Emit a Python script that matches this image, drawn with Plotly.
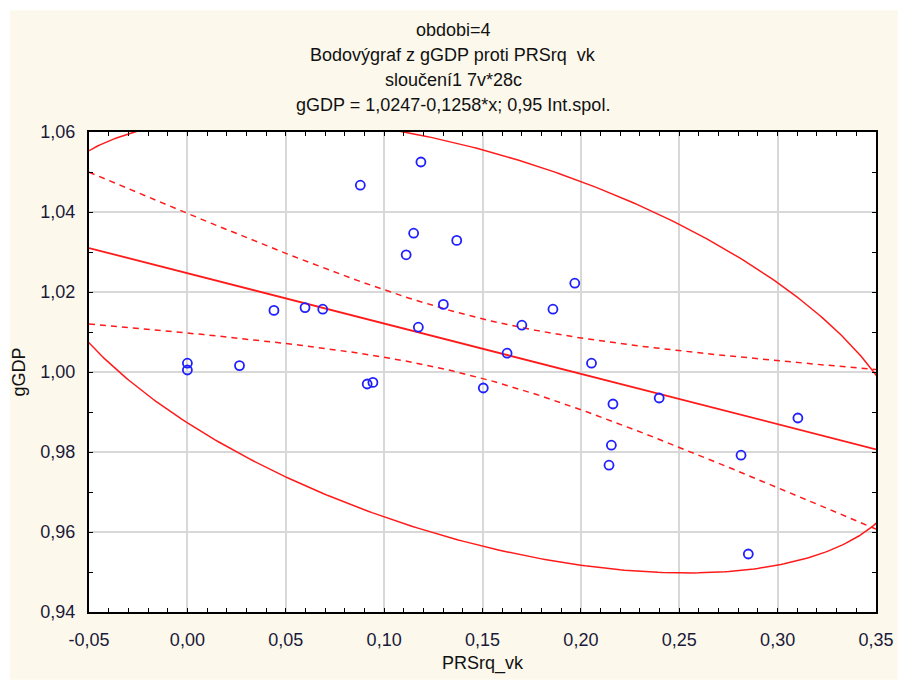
import numpy as np
import plotly.graph_objects as go

# Data
prsrq_vk = [0.0, 0.0, 0.0265, 0.044, 0.0598, 0.0688, 0.0879, 0.1187, 0.115, 0.1112,
            0.1369, 0.1301, 0.1174, 0.0914, 0.0943, 0.1504, 0.1969, 0.1858, 0.170,
            0.1625, 0.2054, 0.2163, 0.2398, 0.3103, 0.2155, 0.2143, 0.2814, 0.2851]
ggdp = [1.0022, 1.0005, 1.0016, 1.0154, 1.0161, 1.0157, 1.0467, 1.0525, 1.0347, 1.0293,
        1.0329, 1.0169, 1.0112, 0.9970, 0.9974, 0.9960, 1.0222, 1.0157, 1.0117,
        1.0047, 1.0022, 0.9920, 0.9935, 0.9885, 0.9817, 0.9767, 0.9792, 0.9545]

intercept = 1.0247
slope = -0.1258
x_range = [-0.05, 0.35]
y_range = [0.94, 1.06]
x_ticks = [-0.05, 0.0, 0.05, 0.10, 0.15, 0.20, 0.25, 0.30, 0.35]
x_tick_labels = ["-0,05", "0,00", "0,05", "0,10", "0,15", "0,20", "0,25", "0,30", "0,35"]
y_ticks = [0.94, 0.96, 0.98, 1.00, 1.02, 1.04, 1.06]
y_tick_labels = ["0,94", "0,96", "0,98", "1,00", "1,02", "1,04", "1,06"]

title_lines = ["obdobi=4", "Bodovýgraf z gGDP proti PRSrq  vk", "sloučení1 7v*28c",
               "gGDP = 1,0247-0,1258*x; 0,95 Int.spol."]

x = np.array(prsrq_vk)
y = np.array(ggdp)
n = len(x)

# regression line and 95% confidence band for the mean
xs = np.linspace(x_range[0], x_range[1], 200)
yhat = intercept + slope * xs
resid = y - (intercept + slope * x)
s = np.sqrt(np.sum(resid ** 2) / (n - 2))
sxx = np.sum((x - x.mean()) ** 2)
t_crit = 2.0555          # t(0.975, 26)
half = t_crit * s * np.sqrt(1.0 / n + (xs - x.mean()) ** 2 / sxx)

# 95% ellipse (F based)
f_crit = 3.369           # F(0.95; 2, 26)
cov = np.cov(x, y)
vals, vecs = np.linalg.eigh(cov)
k = np.sqrt(2.0 * (n - 1) / (n - 2) * f_crit)
th = np.linspace(0, 2 * np.pi, 600)
circ = np.vstack([np.cos(th), np.sin(th)])
ell = vecs @ (np.sqrt(vals)[:, None] * circ) * k
ex = ell[0] + x.mean()
ey = ell[1] + y.mean()

red = "#ff1a1a"
fig = go.Figure()
fig.add_trace(go.Scatter(x=ex, y=ey, mode="lines", line=dict(color=red, width=1.5),
                         hoverinfo="skip"))
fig.add_trace(go.Scatter(x=xs, y=yhat + half, mode="lines",
                         line=dict(color=red, width=1.5, dash="6px,5px"), hoverinfo="skip"))
fig.add_trace(go.Scatter(x=xs, y=yhat - half, mode="lines",
                         line=dict(color=red, width=1.5, dash="6px,5px"), hoverinfo="skip"))
fig.add_trace(go.Scatter(x=xs, y=yhat, mode="lines", line=dict(color=red, width=1.8),
                         hoverinfo="skip"))
fig.add_trace(go.Scatter(x=prsrq_vk, y=ggdp, mode="markers",
                         marker=dict(symbol="circle-open", size=9, color="#1f1fff",
                                     line=dict(width=1.8, color="#1f1fff"))))

L, R, T, B = 89, 22, 132, 68
W, H = 906, 682
pw, ph = W - L - R, H - T - B
cream = "#fdf8ec"
fig.add_shape(type="rect", xref="paper", yref="paper", layer="below",
              x0=(9 - L) / pw, x1=(W - L) / pw, y0=-B / ph,
              y1=(T + ph - 10) / ph, fillcolor=cream, line=dict(width=0))
fig.add_shape(type="rect", xref="paper", yref="paper", layer="below",
              x0=0, x1=1, y0=0, y1=1, fillcolor="white", line=dict(width=0))

line_y = [30, 55, 80, 105]
for txt, yy in zip(title_lines, line_y):
    fig.add_annotation(text=txt, xref="paper", yref="paper", x=(457 - L) / pw,
                       y=(T + ph - yy) / ph, showarrow=False, xanchor="center", yanchor="middle",
                       font=dict(size=18, color="#111111"))

axis_common = dict(showline=True, linecolor="black", linewidth=2, mirror="allticks",
                   ticks="inside", ticklen=4, tickcolor="black", tickwidth=1,
                   showgrid=True, gridcolor="#d8d8d8", gridwidth=2, zeroline=False,
                   tickfont=dict(size=18, color="#1a1a3a"),
                   title_font=dict(size=18, color="#111111"))
fig.update_xaxes(range=x_range, tickvals=x_ticks, ticktext=x_tick_labels, title_text="PRSrq_vk",
                 minor=dict(dtick=0.01, ticks="inside", ticklen=4, tickcolor="black",
                            showgrid=False), ticklabelstandoff=10, title_standoff=8,
                 **axis_common)
fig.update_yaxes(range=y_range, tickvals=y_ticks, ticktext=y_tick_labels, title_text="gGDP",
                 minor=dict(dtick=0.01, ticks="inside", ticklen=4, tickcolor="black",
                            showgrid=False), ticklabelstandoff=8, title_standoff=10,
                 **axis_common)

fig.update_layout(width=W, height=H, margin=dict(l=L, r=R, t=T, b=B),
                  paper_bgcolor="white", plot_bgcolor="white", showlegend=False,
                  font=dict(family="Liberation Sans, Arial, sans-serif"))
fig.write_html("out.html")
